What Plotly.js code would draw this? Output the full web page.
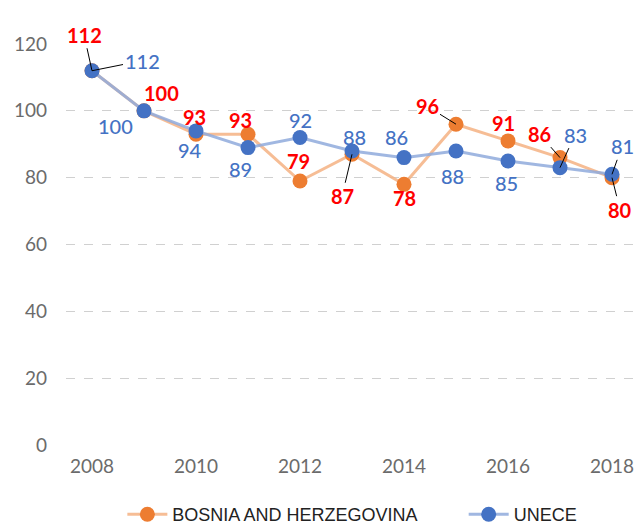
<!DOCTYPE html>
<html><head><meta charset="utf-8">
<script src="https://cdn.plot.ly/plotly-3.0.1.min.js"></script>
<style>html,body{margin:0;padding:0;background:#fff}#c{width:644px;height:525px}</style>
</head><body><div id="c"></div>
<script>
const years = [2008,2009,2010,2011,2012,2013,2014,2015,2016,2017,2018];
const bosnia = [112,100,93,93,79,87,78,96,91,86,80];
const unece = [112,100,94,89,92,88,86,88,85,83,81];
const bosniaName = 'BOSNIA AND HERZEGOVINA';
const uneceName = 'UNECE';
const yTicks = [0,20,40,60,80,100,120];
const xTicks = [2008,2010,2012,2014,2016,2018];

// label offsets in pixels [dx, dy(down positive), leader]
const bOff = [[-8,-36,1],[17,-18,0],[-2,-17,0],[-8,-14,0],[-2,-20,0],[-10,42,1],[0,14,0],[-29,-18,1],[-5,-18,0],[-21,-24,1],[8,32,1]];
const uOff = [[50,-10,1],[-29,15,0],[-6,19,0],[-8,21,0],[0,-18,0],[2,-14,0],[-8,-21,0],[-4,25,0],[-2,22,0],[15,-33,1],[10,-28,1]];

const font = 'Lato, "Open Sans", sans-serif';
function ann(x, y, off, color){
  const base = {x:x, y:y, xref:'x', yref:'y', text:String(y),
    font:{family:font, size:20, color:color, weight: color==='#FF0000'?700:500}};
  if(off[2]){
    return Object.assign(base,{showarrow:true, ax:off[0], ay:off[1], arrowhead:0, arrowwidth:1, arrowcolor:'#000', standoff:0});
  }
  return Object.assign(base,{showarrow:false, xshift:off[0], yshift:-off[1]});
}
const annotations = [];
years.forEach((yr,i)=>{
  annotations.push(ann(yr, bosnia[i], bOff[i], '#FF0000'));
  annotations.push(ann(yr, unece[i], uOff[i], '#4472C4'));
});

const data = [
  {x:years, y:bosnia, name:bosniaName, type:'scatter', mode:'lines+markers', legend:'legend',
   line:{color:'rgba(244,177,131,0.85)', width:3},
   marker:{color:'#ED7D31', size:15}},
  {x:years, y:unece, name:uneceName, type:'scatter', mode:'lines+markers', legend:'legend2',
   line:{color:'rgba(143,170,220,0.85)', width:3},
   marker:{color:'#4472C4', size:15}}
];
const legFont = {size:18, color:'#222', family:'"Liberation Sans", sans-serif'};
const layout = {
  width:644, height:525,
  margin:{l:66, r:6, t:44, b:80, autoexpand:false},
  paper_bgcolor:'#fff', plot_bgcolor:'#fff',
  font:{family:font, color:'#6b6b6b'},
  xaxis:{range:[2007.5,2018.5], tickvals:xTicks, ticktext:xTicks.map(String), showgrid:false, zeroline:false, showline:false,
    tickfont:{size:19, color:'#6b6b6b'}, ticks:'', ticklabelstandoff:8},
  yaxis:{range:[0,120], tickvals:yTicks, showgrid:true, gridcolor:'#d0d0d0', griddash:'dash', gridwidth:1,
    zeroline:false, showline:false, tickfont:{size:19, color:'#6b6b6b'}, ticks:'', ticklabelstandoff:18},
  showlegend:true,
  legend:{orientation:'h', x:0.19, xref:'container', xanchor:'left', yref:'container', y:0.02, yanchor:'middle',
    font:legFont, itemwidth:40},
  legend2:{orientation:'h', x:0.72, xref:'container', xanchor:'left', yref:'container', y:0.02, yanchor:'middle',
    font:legFont, itemwidth:40},
  annotations:annotations
};
Plotly.newPlot('c', data, layout, {displayModeBar:false, staticPlot:true});
</script></body></html>
